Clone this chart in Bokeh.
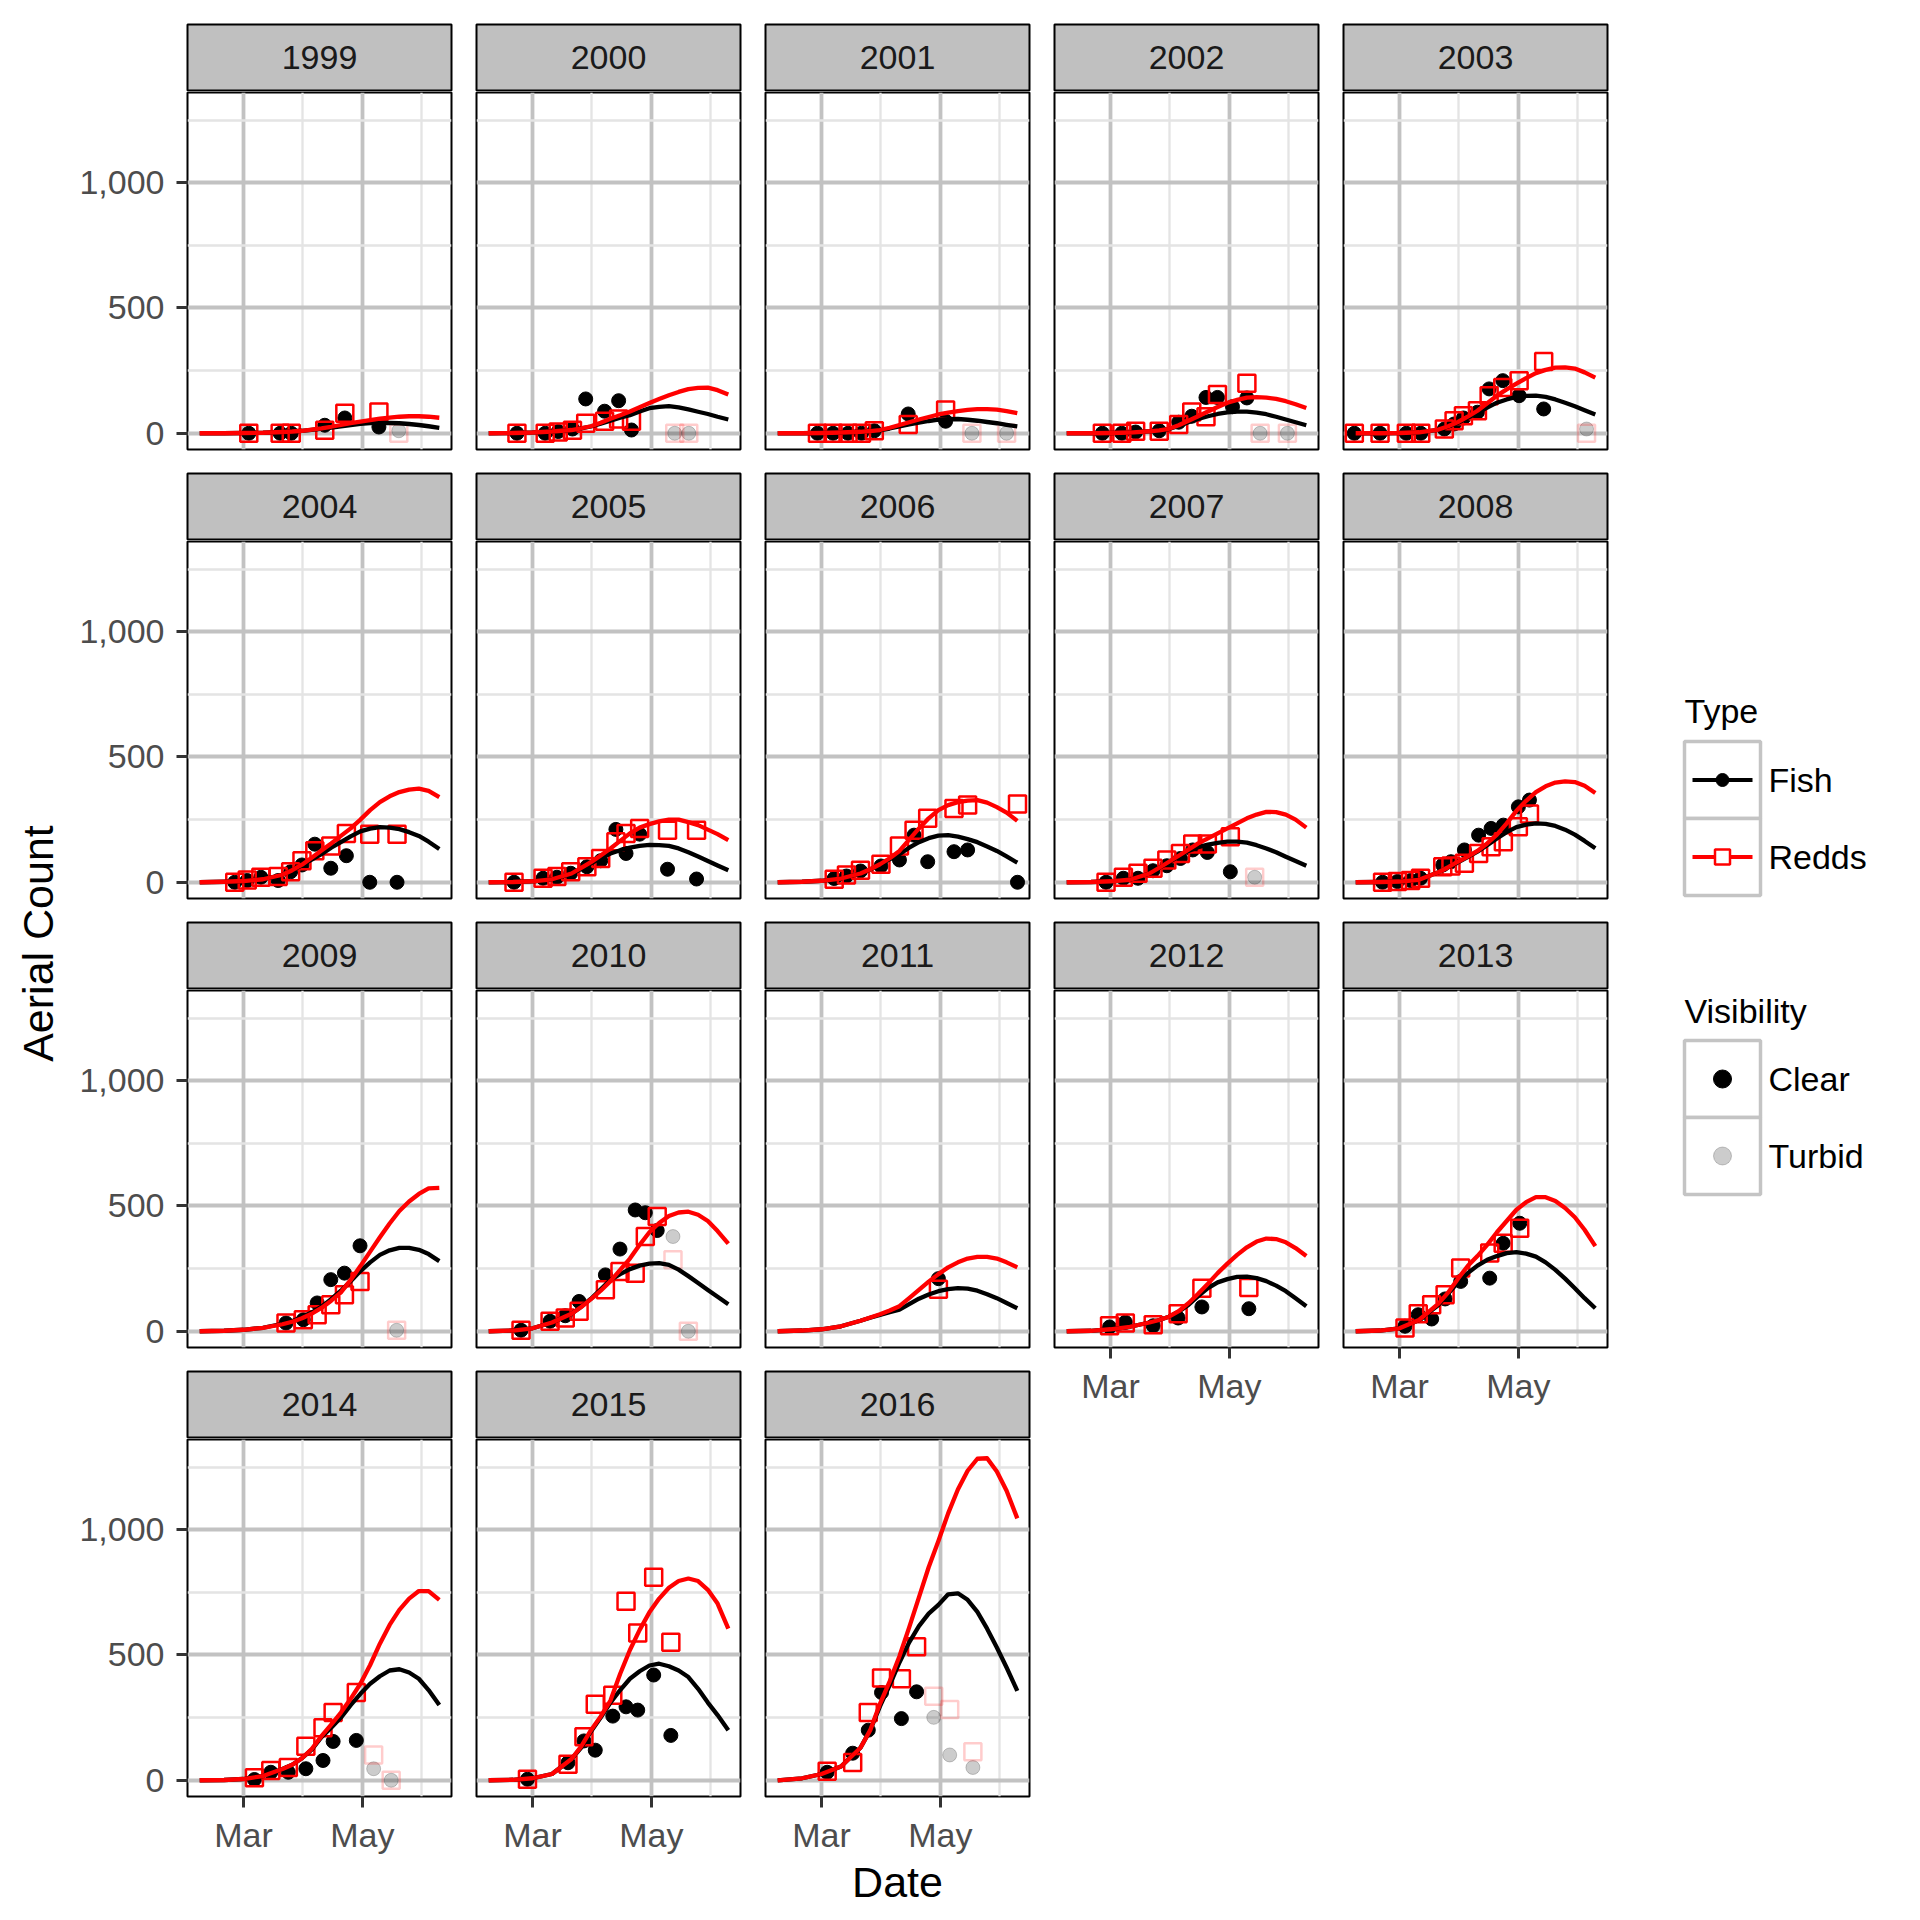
import math
from bokeh.plotting import figure
from bokeh.models import Range1d, FixedTicker, NumeralTickFormatter, Label, Grid
from bokeh.layouts import row, column
from bokeh.embed import file_html
from bokeh.resources import INLINE

FONT = "Liberation Sans"

# ---------------- data (day of year, counts) ----------------
YEARS = list(range(1999, 2017))
X_TICKS = [60, 121]            # Mar 1, May 1
X_TICK_LABELS = ["Mar", "May"]
X_MINOR = [90.5, 151.5]
Y_TICKS = [0, 500, 1000]
Y_MINOR = [250, 750, 1250]

CURVE_DAYS = [37.5, 50, 60, 70, 80, 85, 90, 95, 100, 105, 110, 115, 120, 125,
              130, 135, 140, 145, 150, 155, 160.5]

fish_curve = {
    1999: [0, 0, 1, 2, 5, 7, 10, 14, 18, 23, 28, 33, 38, 41, 42, 41, 40, 37, 33, 28, 22],
    2000: [0, 1, 3, 7, 13, 20, 27, 38, 50, 62, 72, 87, 100, 105, 108, 103, 95, 86, 77, 66, 55],
    2001: [0, 0, 1, 3, 6, 9, 12, 19, 27, 35, 42, 49, 54, 56, 57, 54, 50, 45, 40, 34, 28],
    2002: [0, 0, 1, 3, 8, 12, 17, 29, 44, 57, 68, 77, 83, 86, 86, 82, 76, 66, 55, 44, 32],
    2003: [0, 0, 1, 4, 14, 27, 42, 62, 82, 102, 122, 135, 145, 149, 150, 145, 135, 122, 108, 92, 75],
    2004: [0, 2, 5, 12, 30, 48, 68, 90, 112, 138, 160, 183, 203, 214, 220, 218, 212, 200, 185, 162, 133],
    2005: [0, 1, 4, 12, 33, 54, 75, 96, 115, 128, 138, 145, 149, 148, 145, 135, 120, 103, 85, 67, 48],
    2006: [0, 2, 6, 15, 35, 51, 70, 92, 112, 138, 160, 176, 186, 188, 182, 172, 160, 143, 125, 103, 78],
    2007: [0, 1, 4, 10, 35, 57, 80, 103, 125, 140, 150, 157, 162, 162, 158, 148, 135, 120, 102, 85, 66],
    2008: [0, 1, 3, 10, 40, 60, 80, 100, 122, 148, 175, 200, 220, 230, 235, 233, 225, 210, 190, 165, 136],
    2009: [0, 2, 6, 14, 30, 40, 57, 75, 98, 128, 162, 200, 240, 275, 305, 323, 333, 333, 325, 308, 280],
    2010: [0, 3, 12, 35, 70, 98, 130, 167, 205, 228, 248, 262, 270, 272, 265, 246, 220, 193, 165, 138, 108],
    2011: [0, 3, 8, 20, 42, 54, 65, 76, 86, 108, 130, 147, 160, 168, 172, 170, 162, 148, 132, 113, 92],
    2012: [0, 2, 8, 18, 35, 45, 58, 78, 105, 140, 172, 195, 208, 217, 218, 212, 200, 182, 160, 132, 100],
    2013: [0, 3, 12, 45, 105, 150, 195, 232, 262, 285, 300, 312, 316, 310, 298, 275, 245, 210, 172, 132, 92],
    2014: [0, 1, 5, 17, 45, 62, 88, 122, 172, 210, 250, 300, 345, 385, 415, 438, 443, 430, 405, 360, 300],
    2015: [0, 2, 8, 25, 85, 130, 195, 250, 310, 360, 405, 435, 458, 465, 455, 438, 412, 365, 310, 260, 200],
    2016: [0, 8, 25, 55, 130, 200, 295, 380, 470, 550, 615, 665, 700, 742, 746, 720, 672, 605, 530, 450, 357],
}

redd_curve = {
    1999: [0, 0, 1, 2, 5, 7, 10, 15, 20, 26, 33, 40, 46, 52, 58, 62, 66, 68, 68, 66, 62],
    2000: [0, 1, 3, 7, 13, 20, 28, 42, 58, 72, 87, 104, 121, 137, 152, 165, 176, 181, 182, 172, 155],
    2001: [0, 0, 1, 3, 6, 9, 13, 22, 33, 44, 55, 65, 75, 82, 88, 93, 96, 96, 94, 88, 80],
    2002: [0, 0, 1, 3, 8, 12, 18, 32, 50, 68, 87, 105, 122, 133, 142, 144, 142, 137, 128, 116, 101],
    2003: [0, 0, 1, 4, 15, 28, 45, 66, 90, 120, 150, 175, 198, 220, 240, 253, 262, 263, 258, 243, 222],
    2004: [0, 2, 5, 12, 30, 48, 70, 98, 127, 155, 185, 215, 250, 288, 320, 343, 360, 370, 374, 365, 340],
    2005: [0, 1, 4, 12, 35, 57, 80, 107, 135, 165, 195, 218, 232, 243, 250, 250, 240, 228, 210, 192, 168],
    2006: [0, 2, 6, 15, 35, 52, 72, 96, 125, 170, 215, 255, 288, 308, 320, 326, 328, 318, 300, 278, 245],
    2007: [0, 1, 4, 10, 35, 58, 82, 106, 130, 155, 175, 195, 215, 235, 255, 270, 281, 280, 270, 250, 218],
    2008: [0, 1, 3, 10, 40, 60, 82, 102, 125, 155, 190, 235, 285, 325, 360, 383, 398, 403, 400, 385, 356],
    2009: [0, 2, 6, 14, 28, 38, 52, 70, 93, 122, 155, 205, 260, 318, 375, 430, 480, 518, 548, 570, 572],
    2010: [0, 3, 12, 35, 70, 97, 128, 162, 200, 245, 290, 345, 395, 432, 460, 474, 477, 465, 440, 400, 350],
    2011: [0, 3, 8, 20, 42, 55, 68, 83, 100, 132, 165, 198, 228, 255, 275, 290, 297, 297, 290, 275, 255],
    2012: [0, 2, 8, 18, 35, 45, 58, 80, 112, 150, 190, 232, 270, 305, 335, 358, 370, 368, 355, 332, 300],
    2013: [0, 3, 12, 45, 110, 155, 210, 260, 300, 345, 395, 440, 485, 515, 535, 535, 520, 492, 455, 405, 340],
    2014: [0, 1, 5, 17, 45, 62, 88, 125, 176, 222, 270, 325, 385, 460, 545, 620, 680, 725, 755, 755, 720],
    2015: [0, 2, 8, 25, 85, 135, 200, 255, 318, 425, 520, 600, 670, 725, 768, 795, 805, 795, 760, 705, 605],
    2016: [0, 8, 25, 55, 130, 200, 305, 395, 495, 610, 730, 850, 955, 1065, 1160, 1235, 1283, 1285, 1232, 1155, 1045],
}

fish_clear = {
    1999: [(62.7, 0), (78.8, 0), (84.5, 0), (101.7, 32), (112, 61), (129.5, 25)],
    2000: [(52, 0), (66.5, 0), (73.2, 7), (80.5, 17), (87.3, 137), (97, 88), (104.2, 130), (110.8, 13)],
    2001: [(57.9, 0), (65.9, 0), (73.6, 0), (80.5, 0), (87.1, 10), (104.5, 77), (123.7, 48)],
    2002: [(55.8, 0), (65.8, 0), (72.9, 5), (85, 10), (95, 44), (101.7, 68), (109, 143), (114.9, 143), (122.6, 106), (130, 141)],
    2003: [(36.8, 0), (50, 0), (63.5, 0), (70.9, 0), (83, 17), (88, 37), (92.8, 61), (100, 84), (106, 177), (113, 210), (121.4, 150), (134, 97)],
    2004: [(55.5, 0), (61.9, 7), (68.9, 20), (77.8, 7), (84.2, 42), (90, 69), (96.6, 152), (104.8, 56), (112.8, 106), (124.8, 0), (138.8, 0)],
    2005: [(50.5, 0), (65.4, 16), (72.5, 20), (79.6, 36), (87.9, 62), (95, 86), (102.8, 211), (108, 115), (115, 192), (129.3, 52), (144.2, 13)],
    2006: [(66.5, 15), (72.8, 25), (80, 45), (90.5, 65), (100, 89), (107.5, 188), (114.5, 82), (128, 122), (135, 129), (160.6, 0)],
    2007: [(57.7, 0), (66.6, 16), (74.1, 16), (81.8, 46), (88.9, 66), (95.9, 95), (102.2, 129), (109.7, 119), (121.5, 42)],
    2008: [(51.3, 0), (58.9, 3), (65.7, 7), (70.8, 16), (82.2, 69), (86.4, 82), (93.3, 129), (100.6, 188), (107, 215), (113.3, 228), (121, 301), (126.7, 328)],
    2009: [(81.8, 33), (90.7, 46), (97.8, 113), (104.8, 206), (111.8, 232), (119.8, 341)],
    2010: [(54.1, 4), (69, 40), (76.8, 62), (83.9, 119), (97.4, 225), (104.9, 328), (112.7, 484), (117.9, 473), (124, 402)],
    2011: [(120, 210)],
    2012: [(59.5, 17), (67.6, 36), (81.9, 22), (94.7, 53), (106.9, 97), (131, 90)],
    2013: [(62.8, 20), (69.6, 66), (76.5, 49), (83.4, 129), (91.4, 199), (106.3, 212), (113.2, 351), (121.7, 431)],
    2014: [(65.6, 3), (74, 32), (83, 32), (92, 46), (100.8, 79), (106, 155), (117.9, 159)],
    2015: [(57.4, 4), (78.2, 70), (86.4, 157), (92.2, 120), (101.2, 256), (108, 293), (114, 280), (122.2, 420), (131, 179)],
    2016: [(62.9, 32), (76, 108), (84, 200), (90.8, 350), (101, 246), (108.8, 353)],
}

redd_clear = {
    1999: [(62.7, 0), (78.8, 0), (84.5, 0), (101.7, 12), (112, 80), (129.5, 85)],
    2000: [(52, 0), (66.5, 0), (73.2, 5), (80.5, 12), (87.3, 40), (97, 48), (104.2, 57), (110.8, 48)],
    2001: [(57.9, 0), (65.9, 0), (73.6, 0), (80.5, 0), (87.1, 10), (104.5, 35), (123.7, 93)],
    2002: [(55.8, 0), (65.8, 0), (72.9, 8), (85, 8), (95, 35), (101.7, 85), (109, 66), (114.9, 155), (130, 200)],
    2003: [(36.8, 0), (50, 0), (63.5, 0), (70.9, 0), (83, 17), (88, 50), (92.8, 70), (100, 90), (106, 150), (113, 183), (121.4, 210), (134, 286)],
    2004: [(55.5, 0), (61.9, 9), (68.9, 20), (77.8, 23), (84.2, 42), (90, 86), (96.6, 126), (104.8, 145), (112.8, 195), (124.8, 192), (138.8, 192)],
    2005: [(50.5, 0), (65.4, 16), (72.5, 23), (79.6, 42), (87.9, 62), (95, 95), (102.8, 162), (108, 195), (115, 215), (129.3, 208), (144.2, 208)],
    2006: [(66.5, 12), (72.8, 29), (80, 48), (90.5, 72), (100, 145), (107.5, 208), (114.5, 255), (128, 294), (135, 308), (160.6, 312)],
    2007: [(57.7, 0), (66.6, 20), (74.1, 36), (81.8, 56), (88.9, 89), (95.9, 115), (102.2, 153), (109.7, 153), (121.5, 182)],
    2008: [(51.3, 0), (58.9, 3), (65.7, 7), (70.8, 16), (82.2, 62), (86.4, 65), (93.3, 76), (100.6, 115), (107, 142), (113.3, 162), (121, 222), (126.7, 272)],
    2009: [(81.8, 33), (90.7, 46), (97.8, 66), (104.8, 106), (111.8, 146), (119.8, 199)],
    2010: [(54.1, 4), (69, 40), (76.8, 53), (83.9, 80), (97.4, 166), (104.9, 239), (112.7, 232), (117.9, 378), (124, 458)],
    2011: [(120, 168)],
    2012: [(59.5, 22), (67.6, 33), (81.9, 26), (94.7, 70), (106.9, 172), (131, 175)],
    2013: [(62.8, 13), (69.6, 70), (76.5, 106), (83.4, 146), (91.4, 252), (106.3, 312), (113.2, 351), (121.7, 411)],
    2014: [(65.6, 10), (74, 39), (83, 51), (92, 136), (100.8, 210), (106, 270), (117.9, 350)],
    2015: [(57.4, 4), (78.2, 64), (86.4, 174), (92.2, 303), (101.2, 339), (108, 714), (114, 588), (122.2, 810), (131, 551)],
    2016: [(62.9, 36), (76, 71), (84, 270), (90.8, 408), (101, 405), (108.8, 533)],
}

fish_turbid = {
    1999: [(139.7, 10)], 2000: [(133, 0), (140.2, 0)], 2001: [(137.2, 0), (155, 0)],
    2002: [(136.8, 0), (150.8, 0)], 2003: [(156, 17)], 2007: [(134, 20)],
    2009: [(138.6, 4)], 2010: [(132.1, 378), (140, 0)],
    2014: [(126.8, 46), (135.8, 0)], 2016: [(117.6, 251), (125.8, 101), (137.7, 51)],
}

redd_turbid = {
    1999: [(139.7, 0)], 2000: [(133, 0), (140.2, 0)], 2001: [(137.2, 0), (155, 0)],
    2002: [(136.8, 0), (150.8, 0)], 2003: [(156, 0)], 2007: [(134, 20)],
    2009: [(138.6, 4)], 2010: [(132.1, 285), (140, 0)],
    2014: [(126.8, 101), (135.8, 0)], 2016: [(117.6, 335), (125.8, 282), (137.7, 114)],
}

# ---------------- layout constants ----------------
X_RANGE = (31.24, 166.76)
Y_RANGE = (-64.75, 1359.75)
NCOL = 5
FRAME_W, FRAME_H, STRIP_H = 264, 357, 66
LEFT_AXIS = 120
RIGHT_GAP = 23
TOP_PAD = 24
TICK_PX = "34px"
GRID_MAJOR = "#C2C2C2"
GRID_MINOR = "#E4E4E4"
STRIP_FILL = "#C0C0C0"
DOT_SIZE, SQ_SIZE, CURVE_W = 14, 17, 4.3


def base_fig(**kw):
    return figure(output_backend="svg", toolbar_location=None,
                  border_fill_color="white", **kw)


def add_grids(p):
    p.center = [r for r in p.center if not isinstance(r, Grid)]
    for dim, ticks, minor in ((0, X_TICKS, X_MINOR), (1, Y_TICKS, Y_MINOR)):
        g = Grid(dimension=dim, ticker=FixedTicker(ticks=ticks, minor_ticks=minor),
                 grid_line_color=GRID_MAJOR, grid_line_width=3.8,
                 minor_grid_line_color=GRID_MINOR, minor_grid_line_width=2.3)
        p.add_layout(g, "center")


def style_axis(ax):
    ax.major_label_text_font = FONT
    ax.major_label_text_font_size = TICK_PX
    ax.major_label_text_color = "#4D4D4D"
    ax.major_tick_out = 11
    ax.major_tick_in = 0
    ax.major_tick_line_width = 3
    ax.major_tick_line_color = "#333333"
    ax.minor_tick_line_color = None
    ax.axis_line_color = None


def make_strip(year, col, r):
    s = base_fig(frame_width=FRAME_W, frame_height=STRIP_H,
                 x_range=Range1d(0, 1), y_range=Range1d(0, 1),
                 x_axis_location=None, y_axis_location=None,
                 min_border_left=LEFT_AXIS if col == 0 else 2,
                 min_border_right=RIGHT_GAP,
                 min_border_top=TOP_PAD if r == 0 else 2, min_border_bottom=1,
                 background_fill_color=STRIP_FILL,
                 outline_line_color="black", outline_line_width=2)
    s.center = [x for x in s.center if not isinstance(x, Grid)]
    s.add_layout(Label(x=0.5, y=0.5, text=str(year), text_align="center",
                       text_baseline="middle", text_font=FONT,
                       text_font_size="34px", text_color="#1A1A1A"))
    return s


def make_panel(year, col, bottom, date_label):
    p = base_fig(frame_width=FRAME_W, frame_height=FRAME_H,
                 x_range=Range1d(*X_RANGE), y_range=Range1d(*Y_RANGE),
                 x_axis_location="below" if bottom else None,
                 y_axis_location="left" if col == 0 else None,
                 min_border_left=LEFT_AXIS if col == 0 else 2,
                 min_border_right=RIGHT_GAP, min_border_top=1,
                 min_border_bottom=70 if bottom else 22,
                 background_fill_color="white",
                 outline_line_color="black", outline_line_width=2)
    add_grids(p)
    if col == 0:
        ax = p.yaxis[0]
        ax.ticker = FixedTicker(ticks=Y_TICKS)
        ax.formatter = NumeralTickFormatter(format="0,0")
        style_axis(ax)
        ax.major_label_standoff = 12
    if bottom:
        ax = p.xaxis[0]
        ax.ticker = FixedTicker(ticks=X_TICKS)
        ax.major_label_overrides = dict(zip(X_TICKS, X_TICK_LABELS))
        style_axis(ax)
        ax.major_label_standoff = 8
        if date_label:
            ax.axis_label = "Date"
            ax.axis_label_text_font = FONT
            ax.axis_label_text_font_size = "43px"
            ax.axis_label_text_font_style = "normal"
            ax.axis_label_text_color = "black"
            ax.axis_label_standoff = 1

    fc = fish_clear.get(year, [])
    rc = redd_clear.get(year, [])
    ft = fish_turbid.get(year, [])
    rt = redd_turbid.get(year, [])
    if ft:
        p.scatter([d for d, _ in ft], [v for _, v in ft], marker="circle", size=DOT_SIZE,
                  fill_color="black", fill_alpha=0.2, line_color="black", line_alpha=0.2)
    if rt:
        p.scatter([d for d, _ in rt], [v for _, v in rt], marker="square", size=SQ_SIZE,
                  fill_color=None, line_color="red", line_alpha=0.2, line_width=2.5)
    if fc:
        p.scatter([d for d, _ in fc], [v for _, v in fc], marker="circle", size=DOT_SIZE,
                  fill_color="black", line_color="black")
    if rc:
        p.scatter([d for d, _ in rc], [v for _, v in rc], marker="square", size=SQ_SIZE,
                  fill_color=None, line_color="red", line_width=2.5)
    p.line(CURVE_DAYS, fish_curve[year], line_color="black", line_width=CURVE_W,
           line_join="round")
    p.line(CURVE_DAYS, redd_curve[year], line_color="red", line_width=CURVE_W,
           line_join="round")
    return p


columns = []
for c in range(NCOL):
    col_years = [y for i, y in enumerate(YEARS) if i % NCOL == c]
    figs = []
    for r, yr in enumerate(col_years):
        last = (r == len(col_years) - 1)
        figs.append(make_strip(yr, c, r))
        figs.append(make_panel(yr, c, last, date_label=(last and c == 2)))
    columns.append(column(*figs, spacing=0))

# y axis title
YT_W, YT_H = 67, 1870
yt = base_fig(width=YT_W, height=YT_H, x_range=Range1d(0, YT_W), y_range=Range1d(0, YT_H),
              x_axis_location=None, y_axis_location=None, min_border=0,
              outline_line_color=None)
yt.center = [x for x in yt.center if not isinstance(x, Grid)]
yt.add_layout(Label(x=37, y=YT_H - 943, text="Aerial Count", angle=math.pi / 2,
                    text_align="center", text_baseline="middle", text_font=FONT,
                    text_font_size="43px", text_color="black"))

# legend
LG_W, LG_H = 270, 1260
lg = base_fig(width=LG_W, height=LG_H, x_range=Range1d(0, LG_W), y_range=Range1d(LG_H, 0),
              x_axis_location=None, y_axis_location=None, min_border=0,
              outline_line_color=None)
lg.center = [x for x in lg.center if not isinstance(x, Grid)]
KX0, KW, KH = 54, 76, 77
KEY_BORDER = "#C4C4C4"


def leg_text(x, y, t):
    lg.add_layout(Label(x=x, y=y, text=t, text_align="left", text_baseline="middle",
                        text_font=FONT, text_font_size="34px", text_color="black"))


def key_box(top):
    lg.quad(left=KX0, right=KX0 + KW, top=top, bottom=top + KH,
            fill_color="white", line_color=KEY_BORDER, line_width=3.5)


type_title_y, type_top = 710, 741
vis_title_y, vis_top = 1010, 1040
leg_text(KX0, type_title_y, "Type")
for i, (name, colr, mk) in enumerate([("Fish", "black", "circle"), ("Redds", "red", "square")]):
    top = type_top + i * KH
    key_box(top)
    cy = top + KH / 2
    lg.line([KX0 + 8, KX0 + KW - 8], [cy, cy], line_color=colr, line_width=4)
    if mk == "circle":
        lg.scatter([KX0 + KW / 2], [cy], marker="circle", size=13, fill_color="black",
                   line_color="black")
    else:
        lg.scatter([KX0 + KW / 2], [cy], marker="square", size=15, fill_color="white",
                   line_color="red", line_width=2.5)
    leg_text(KX0 + 84, cy, name)

leg_text(KX0, vis_title_y, "Visibility")
for i, (name, alpha) in enumerate([("Clear", 1.0), ("Turbid", 0.2)]):
    top = vis_top + i * KH
    key_box(top)
    cy = top + KH / 2
    lg.scatter([KX0 + KW / 2], [cy], marker="circle", size=18, fill_color="black",
               fill_alpha=alpha, line_color="black", line_alpha=alpha)
    leg_text(KX0 + 84, cy, name)

root = row(yt, *columns, lg, spacing=0)
open("out.html", "w").write(file_html(root, INLINE))
